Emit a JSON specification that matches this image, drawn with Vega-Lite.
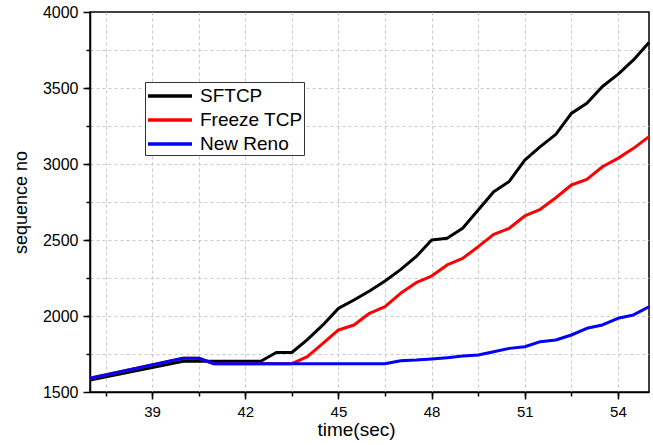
{
  "$schema": "https://vega.github.io/schema/vega-lite/v6.json",
  "width": 559,
  "height": 380,
  "autosize": {"type": "none"},
  "padding": {"left": 90, "top": 12, "right": 4, "bottom": 53},
  "background": "white",
  "config": {
    "view": {"stroke": "black", "strokeWidth": 1.5},
    "font": "Liberation Sans",
    "axis": {"domainColor": "black", "tickColor": "black", "labelColor": "black", "titleColor": "black", "labelFont": "Liberation Sans", "titleFont": "Liberation Sans", "titleFontWeight": "normal"}
  },
  "data": {"values": [
    {"t": 37, "v": 1578, "s": "SFTCP"},
    {"t": 40, "v": 1702, "s": "SFTCP"},
    {"t": 42.5, "v": 1702, "s": "SFTCP"},
    {"t": 43, "v": 1760, "s": "SFTCP"},
    {"t": 43.5, "v": 1760, "s": "SFTCP"},
    {"t": 44, "v": 1845, "s": "SFTCP"},
    {"t": 44.5, "v": 1941, "s": "SFTCP"},
    {"t": 45, "v": 2050, "s": "SFTCP"},
    {"t": 45.5, "v": 2105, "s": "SFTCP"},
    {"t": 46, "v": 2165, "s": "SFTCP"},
    {"t": 46.5, "v": 2230, "s": "SFTCP"},
    {"t": 47, "v": 2305, "s": "SFTCP"},
    {"t": 47.5, "v": 2390, "s": "SFTCP"},
    {"t": 48, "v": 2500, "s": "SFTCP"},
    {"t": 48.5, "v": 2512, "s": "SFTCP"},
    {"t": 49, "v": 2577, "s": "SFTCP"},
    {"t": 49.5, "v": 2697, "s": "SFTCP"},
    {"t": 50, "v": 2818, "s": "SFTCP"},
    {"t": 50.5, "v": 2885, "s": "SFTCP"},
    {"t": 51, "v": 3026, "s": "SFTCP"},
    {"t": 51.5, "v": 3114, "s": "SFTCP"},
    {"t": 52, "v": 3195, "s": "SFTCP"},
    {"t": 52.5, "v": 3333, "s": "SFTCP"},
    {"t": 53, "v": 3399, "s": "SFTCP"},
    {"t": 53.5, "v": 3510, "s": "SFTCP"},
    {"t": 54, "v": 3590, "s": "SFTCP"},
    {"t": 54.5, "v": 3685, "s": "SFTCP"},
    {"t": 55, "v": 3800, "s": "SFTCP"},
    {"t": 37, "v": 1590, "s": "Freeze TCP"},
    {"t": 40, "v": 1722, "s": "Freeze TCP"},
    {"t": 40.5, "v": 1722, "s": "Freeze TCP"},
    {"t": 41, "v": 1686, "s": "Freeze TCP"},
    {"t": 43.5, "v": 1686, "s": "Freeze TCP"},
    {"t": 44, "v": 1732, "s": "Freeze TCP"},
    {"t": 44.5, "v": 1820, "s": "Freeze TCP"},
    {"t": 45, "v": 1908, "s": "Freeze TCP"},
    {"t": 45.5, "v": 1941, "s": "Freeze TCP"},
    {"t": 46, "v": 2018, "s": "Freeze TCP"},
    {"t": 46.5, "v": 2061, "s": "Freeze TCP"},
    {"t": 47, "v": 2149, "s": "Freeze TCP"},
    {"t": 47.5, "v": 2219, "s": "Freeze TCP"},
    {"t": 48, "v": 2263, "s": "Freeze TCP"},
    {"t": 48.5, "v": 2336, "s": "Freeze TCP"},
    {"t": 49, "v": 2379, "s": "Freeze TCP"},
    {"t": 49.5, "v": 2456, "s": "Freeze TCP"},
    {"t": 50, "v": 2537, "s": "Freeze TCP"},
    {"t": 50.5, "v": 2577, "s": "Freeze TCP"},
    {"t": 51, "v": 2658, "s": "Freeze TCP"},
    {"t": 51.5, "v": 2702, "s": "Freeze TCP"},
    {"t": 52, "v": 2778, "s": "Freeze TCP"},
    {"t": 52.5, "v": 2862, "s": "Freeze TCP"},
    {"t": 53, "v": 2899, "s": "Freeze TCP"},
    {"t": 53.5, "v": 2982, "s": "Freeze TCP"},
    {"t": 54, "v": 3037, "s": "Freeze TCP"},
    {"t": 54.5, "v": 3103, "s": "Freeze TCP"},
    {"t": 55, "v": 3180, "s": "Freeze TCP"},
    {"t": 37, "v": 1590, "s": "New Reno"},
    {"t": 40, "v": 1722, "s": "New Reno"},
    {"t": 40.5, "v": 1722, "s": "New Reno"},
    {"t": 41, "v": 1686, "s": "New Reno"},
    {"t": 46.5, "v": 1686, "s": "New Reno"},
    {"t": 47, "v": 1706, "s": "New Reno"},
    {"t": 47.5, "v": 1710, "s": "New Reno"},
    {"t": 48, "v": 1717, "s": "New Reno"},
    {"t": 48.5, "v": 1726, "s": "New Reno"},
    {"t": 49, "v": 1737, "s": "New Reno"},
    {"t": 49.5, "v": 1743, "s": "New Reno"},
    {"t": 50, "v": 1765, "s": "New Reno"},
    {"t": 50.5, "v": 1787, "s": "New Reno"},
    {"t": 51, "v": 1798, "s": "New Reno"},
    {"t": 51.5, "v": 1831, "s": "New Reno"},
    {"t": 52, "v": 1842, "s": "New Reno"},
    {"t": 52.5, "v": 1875, "s": "New Reno"},
    {"t": 53, "v": 1919, "s": "New Reno"},
    {"t": 53.5, "v": 1941, "s": "New Reno"},
    {"t": 54, "v": 1985, "s": "New Reno"},
    {"t": 54.5, "v": 2007, "s": "New Reno"},
    {"t": 55, "v": 2061, "s": "New Reno"}
  ]},
  "resolve": {"axis": {"x": "independent", "y": "independent"}},
  "layer": [
    {
      "mark": {"type": "line", "opacity": 0},
      "encoding": {
        "x": {"field": "t", "type": "quantitative", "scale": {"domain": [37, 55], "nice": false, "zero": false},
          "axis": {"orient": "bottom", "values": [37.5, 39, 40.5, 42, 43.5, 45, 46.5, 48, 49.5, 51, 52.5, 54], "labels": false, "title": null, "tickSize": 4, "tickWidth": 1.5, "domain": false, "grid": true, "gridDash": [3, 3], "gridColor": "#c8c8c8", "gridWidth": 1}},
        "y": {"field": "v", "type": "quantitative", "scale": {"domain": [1500, 4000], "nice": false, "zero": false},
          "axis": {"orient": "left", "values": [1750, 2000, 2250, 2500, 2750, 3000, 3250, 3500, 3750], "labels": false, "title": null, "tickSize": 4, "tickWidth": 1.5, "domain": false, "grid": true, "gridDash": [3, 3], "gridColor": "#c8c8c8", "gridWidth": 1}},
        "detail": {"field": "s"}
      }
    },
    {
      "mark": {"type": "line", "strokeWidth": 3, "strokeJoin": "round"},
      "encoding": {
        "x": {"field": "t", "type": "quantitative", "scale": {"domain": [37, 55], "nice": false, "zero": false},
          "axis": {"orient": "bottom", "values": [39, 42, 45, 48, 51, 54], "format": "d", "title": "time(sec)", "titleFontSize": 19, "titlePadding": 1, "titleX": 266, "titleAlign": "center", "labelFontSize": 15, "labelPadding": 5, "tickSize": 7, "tickWidth": 1.5, "domainWidth": 1.5, "grid": false}},
        "y": {"field": "v", "type": "quantitative", "scale": {"domain": [1500, 4000], "nice": false, "zero": false},
          "axis": {"orient": "left", "values": [1500, 2000, 2500, 3000, 3500, 4000], "format": "d", "title": "sequence no", "titleFontSize": 18, "titlePadding": 12, "labelFontSize": 16, "labelPadding": 5, "tickSize": 7, "tickWidth": 1.5, "domainWidth": 1.5, "grid": false}},
        "color": {"field": "s", "type": "nominal", "sort": null,
          "scale": {"domain": ["SFTCP", "Freeze TCP", "New Reno"], "range": ["#000000", "#ff0000", "#0000ff"]},
          "legend": {"title": null, "orient": "none", "legendX": 55, "legendY": 70, "symbolType": "M-1,0H3", "symbolSize": 484, "symbolStrokeWidth": 3.5, "symbolFillColor": "transparent", "labelFontSize": 19, "labelFont": "Liberation Sans", "labelColor": "black", "strokeColor": "#333333", "fillColor": "white", "padding": 1, "rowPadding": 1, "labelOffset": 28}}
      }
    }
  ]
}
